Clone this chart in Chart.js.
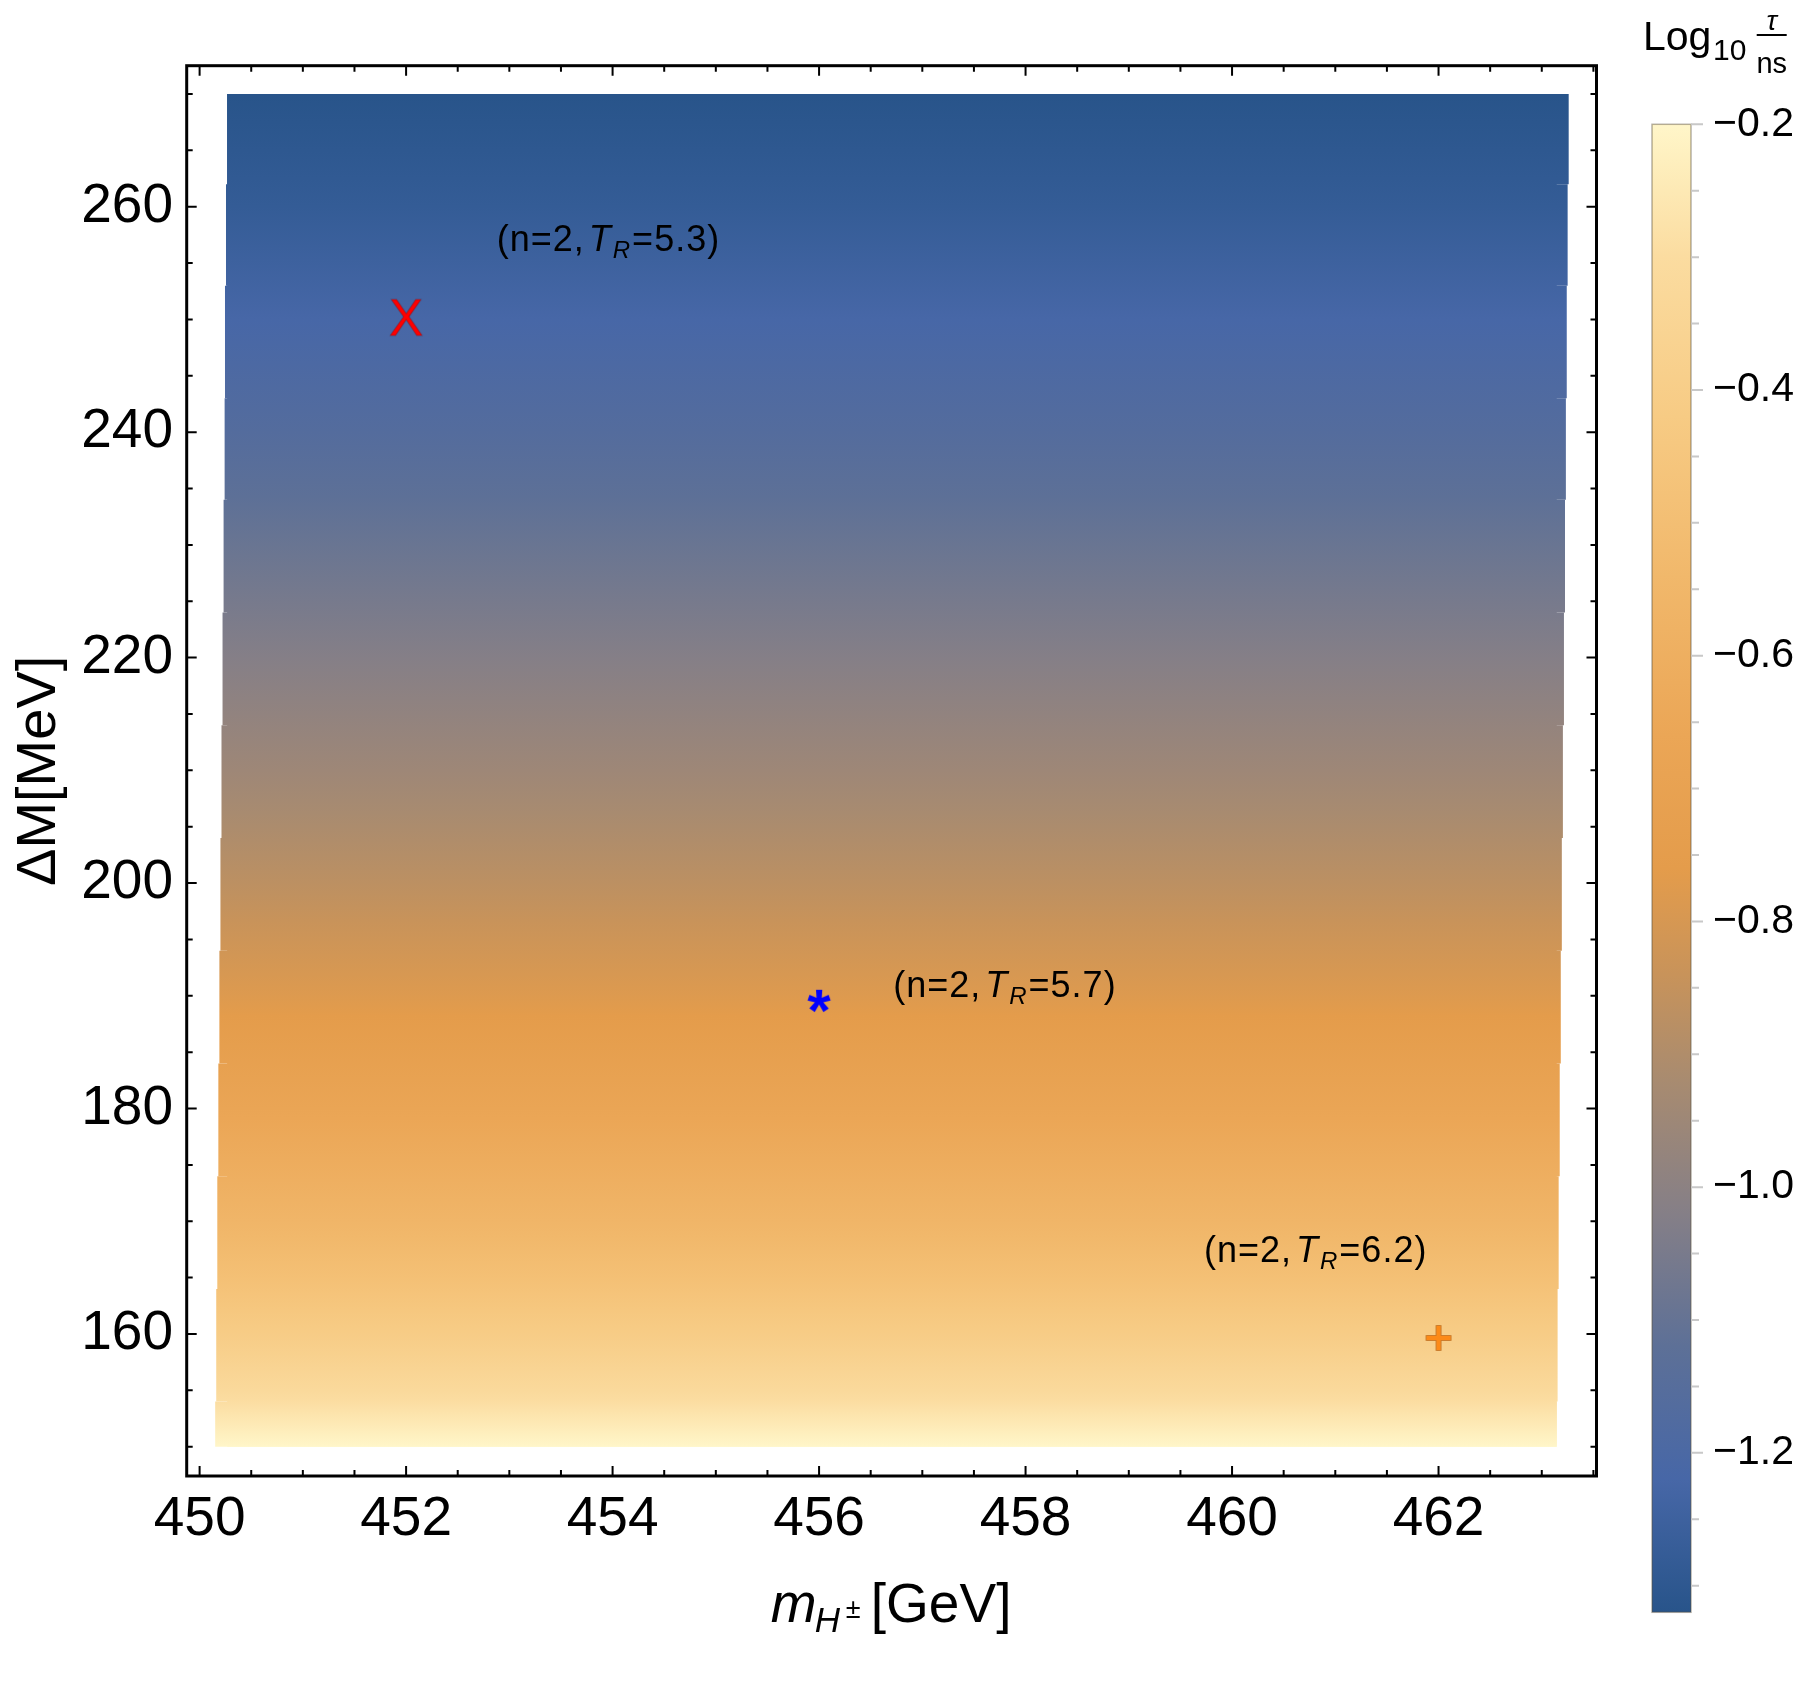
<!DOCTYPE html>
<html lang="en">
<head>
<meta charset="UTF-8">
<title>Charged Higgs lifetime</title>
<script src="https://cdn.jsdelivr.net/npm/chart.js"></script>
<style>
    html, body { margin: 0; padding: 0; background: #fff; }
    #wrap { position: relative; width: 1810px; height: 1704px; }
    #main { position: absolute; left: 0; top: 0; }
    #legend-bar { position: absolute; left: 1600px; top: 0; }
</style>
</head>
<body>
<div id="wrap">
    <canvas id="main" width="1810" height="1704"></canvas>
    <canvas id="legend-bar" width="210" height="1704"></canvas>
</div>
<script>
const dmKnots = [150, 155, 160, 165, 170, 180, 190, 200, 210, 220, 230, 240, 250, 260, 270];
const logTau  = [-0.20, -0.32, -0.41, -0.49, -0.56, -0.67, -0.78, -0.87, -0.95, -1.02, -1.09, -1.16, -1.22, -1.28, -1.32];

// the shaded region is built of horizontal strips with slightly shifting edges
const stripBottom = [150, 154, 164, 174, 184, 194, 204, 214, 224, 234, 243, 253, 262];
const stripTop    = [154, 164, 174, 184, 194, 204, 214, 224, 234, 243, 253, 262, 270];
const stripLeft   = [450.150, 450.160, 450.170, 450.180, 450.190, 450.200, 450.210, 450.220, 450.230, 450.240, 450.245, 450.255, 450.266];
const stripRight  = [463.146, 463.155, 463.165, 463.175, 463.185, 463.195, 463.205, 463.215, 463.225, 463.234, 463.243, 463.252, 463.262];

// benchmark points and their labels
const pointX  = [452, 456, 462];
const pointY  = [250, 190, 160];
const labelTR = ['5.3', '5.7', '6.2'];
const labelX  = [453.96, 457.80, 460.81];
const labelY  = [256.9, 190.7, 167.2];

const xTicks  = [450, 452, 454, 456, 458, 460, 462];
const yTicks  = [160, 180, 200, 220, 240, 260];
const cbTicks = [-1.2, -1.0, -0.8, -0.6, -0.4, -0.2];

// colour scale (value -> colour)
const cbStopValues = [-1.32, -1.22, -1.12, -1.02, -0.92, -0.84, -0.76, -0.66, -0.54, -0.42, -0.30, -0.20];
const cbStopColors = ['#28548a', '#4767a7', '#5d7097', '#857f87', '#a88b70', '#c8935a', '#e49c4b', '#eba656', '#f1b86b', '#f7cb84', '#fbdca0', '#fff6c9'];

const FONT = "'Liberation Sans', Arial, Helvetica, sans-serif";
Chart.defaults.font.family = FONT;
Chart.defaults.color = '#000';

function hexToRgb(h) {
    const n = parseInt(h.slice(1), 16);
    return [(n >> 16) & 255, (n >> 8) & 255, n & 255];
}

function colorAt(v) {
    const vals = cbStopValues;
    const last = vals.length - 1;
    if (v <= vals[0]) return cbStopColors[0];
    if (v >= vals[last]) return cbStopColors[last];
    for (let i = 1; i <= last; i++) {
        if (v <= vals[i]) {
            const t = (v - vals[i - 1]) / (vals[i] - vals[i - 1]);
            const a = hexToRgb(cbStopColors[i - 1]);
            const b = hexToRgb(cbStopColors[i]);
            const c = a.map((ai, k) => Math.round(ai + (b[k] - ai) * t));
            return `rgb(${c[0]}, ${c[1]}, ${c[2]})`;
        }
    }
}

// gradient stops along Delta M: the knots plus where the colour scale bends
function fieldStops() {
    const stops = dmKnots.map((dm, i) => [dm, logTau[i]]);
    for (let i = 1; i < dmKnots.length; i++) {
        const a = logTau[i - 1], b = logTau[i];
        cbStopValues.forEach(v => {
            if ((v - a) * (v - b) < 0) {
                const t = (v - a) / (b - a);
                stops.push([dmKnots[i - 1] + t * (dmKnots[i] - dmKnots[i - 1]), v]);
            }
        });
    }
    return stops.sort((p, q) => p[0] - q[0]);
}

function fieldFill(context) {
    const chart = context.chart;
    if (!chart.chartArea) return 'rgba(0,0,0,0)';
    const y = chart.scales.y;
    const lo = dmKnots[0], hi = dmKnots[dmKnots.length - 1];
    const g = chart.ctx.createLinearGradient(0, y.getPixelForValue(lo), 0, y.getPixelForValue(hi));
    fieldStops().forEach(([dm, v]) => g.addColorStop((dm - lo) / (hi - lo), colorAt(v)));
    return g;
}

// glyph markers like the ones in the original plot
function glyphMarker(text, font, fill, stroke, dy) {
    const c = document.createElement('canvas');
    c.width = 70; c.height = 70;
    const g = c.getContext('2d');
    g.font = font;
    g.textAlign = 'center';
    g.textBaseline = 'alphabetic';
    const m = g.measureText(text);
    const base = 35 + (m.actualBoundingBoxAscent - m.actualBoundingBoxDescent) / 2 + dy;
    g.fillStyle = fill;
    g.fillText(text, 35, base);
    if (stroke) {
        g.strokeStyle = stroke;
        g.lineWidth = 1;
        g.strokeText(text, 35, base);
    }
    return c;
}

function plusMarker(fill, stroke, dy) {
    const c = document.createElement('canvas');
    c.width = 70; c.height = 70;
    const g = c.getContext('2d');
    g.beginPath();
    g.moveTo(22.5, 32.5 + dy); g.lineTo(32.5, 32.5 + dy); g.lineTo(32.5, 22.5 + dy); g.lineTo(37.5, 22.5 + dy);
    g.lineTo(37.5, 32.5 + dy); g.lineTo(47.5, 32.5 + dy); g.lineTo(47.5, 37.5 + dy); g.lineTo(37.5, 37.5 + dy);
    g.lineTo(37.5, 47.5 + dy); g.lineTo(32.5, 47.5 + dy); g.lineTo(32.5, 37.5 + dy); g.lineTo(22.5, 37.5 + dy);
    g.closePath();
    g.fillStyle = fill;
    g.fill();
    g.strokeStyle = stroke;
    g.lineWidth = 1;
    g.stroke();
    return c;
}

const markerImages = [
    glyphMarker('X', `51px ${FONT}`, '#ff0000', 'rgba(110,0,0,0.35)', -2),
    glyphMarker('*', `bold 60px ${FONT}`, '#0000ff', null, 5),
    plusMarker('#fc8a18', 'rgba(160,80,10,0.5)', 4)
];

function drawPointLabel(ctx, cx, cy, tr) {
    const size = 36, sub = 24;
    const parts = [
        { t: '(n=2,', f: `${size}px ${FONT}`, dy: 0, gap: 4 },
        { t: 'T', f: `italic ${size}px ${FONT}`, dy: 0, gap: 1 },
        { t: 'R', f: `italic ${sub}px ${FONT}`, dy: 7, gap: 1 },
        { t: '=' + tr + ')', f: `${size}px ${FONT}`, dy: 0, gap: 0 }
    ];
    ctx.letterSpacing = '1px';
    let w = 0;
    parts.forEach(p => { ctx.font = p.f; p.w = ctx.measureText(p.t).width; w += p.w + p.gap; });
    let xx = cx - w / 2;
    const base = cy + 0.258 * size;
    ctx.fillStyle = '#000';
    ctx.textAlign = 'left';
    ctx.textBaseline = 'alphabetic';
    parts.forEach(p => {
        ctx.font = p.f;
        ctx.fillText(p.t, xx, base + p.dy);
        xx += p.w + p.gap;
    });
    ctx.letterSpacing = '0px';
}

const framePlugin = {
    id: 'frame',
    afterDatasetsDraw(chart) {
        const { ctx, chartArea: a, scales: { x, y } } = chart;
        ctx.save();
        labelTR.forEach((tr, i) => drawPointLabel(ctx, x.getPixelForValue(labelX[i]), y.getPixelForValue(labelY[i]), tr));

        ctx.strokeStyle = '#000';
        ctx.lineWidth = 3;
        ctx.strokeRect(a.left, a.top, a.right - a.left, a.bottom - a.top);

        // inward ticks on all four sides
        ctx.lineWidth = 2;
        ctx.beginPath();
        for (let v = 450; v <= 463.5 + 1e-9; v += 0.5) {
            const px = x.getPixelForValue(v);
            const len = xTicks.includes(v) ? 10 : 6;
            ctx.moveTo(px, a.bottom); ctx.lineTo(px, a.bottom - len);
            ctx.moveTo(px, a.top); ctx.lineTo(px, a.top + len);
        }
        for (let v = 150; v <= 270; v += 5) {
            const py = y.getPixelForValue(v);
            const len = yTicks.includes(v) ? 10 : 6;
            ctx.moveTo(a.left, py); ctx.lineTo(a.left + len, py);
            ctx.moveTo(a.right, py); ctx.lineTo(a.right - len, py);
        }
        ctx.stroke();
        ctx.restore();
    },
    afterDraw(chart) {
        const { ctx, chartArea: a } = chart;
        ctx.save();
        ctx.fillStyle = '#000';
        ctx.textBaseline = 'alphabetic';
        ctx.textAlign = 'left';

        // x title: m_{H^±}[GeV]
        const cx = (a.left + a.right) / 2;
        const x0 = cx - 120.8;
        const base = a.bottom + 145.7;
        ctx.font = `italic 55px ${FONT}`;
        ctx.fillText('m', x0, base);
        ctx.font = `italic 35px ${FONT}`;
        ctx.fillText('H', x0 + 44, base + 10);
        ctx.font = `27px ${FONT}`;
        ctx.fillText('\u00b1', x0 + 75, base - 4);
        ctx.font = `55px ${FONT}`;
        ctx.fillText('[GeV]', x0 + 100, base);

        // y title
        ctx.translate(55, (a.top + a.bottom) / 2);
        ctx.rotate(-Math.PI / 2);
        ctx.textAlign = 'center';
        ctx.font = `56px ${FONT}`;
        ctx.fillText('\u0394M[MeV]', 0, 0);
        ctx.restore();
    }
};

// strips are drawn below the markers (higher order = drawn earlier)
const fieldSets = stripBottom.map((b, i) => ({
    type: 'line',
    order: 2,
    data: [{ x: stripLeft[i], y: stripTop[i] }, { x: stripRight[i], y: stripTop[i] }],
    fill: { value: b },
    backgroundColor: fieldFill,
    borderColor: 'rgba(0,0,0,0)',
    borderWidth: 0,
    pointRadius: 0,
    tension: 0
}));

// underlay covering the common core so the strip seams do not show
fieldSets.push({
    type: 'line',
    order: 1,
    data: [{ x: Math.max(...stripLeft), y: stripTop[stripTop.length - 1] },
           { x: Math.min(...stripRight), y: stripTop[stripTop.length - 1] }],
    fill: { value: stripBottom[0] },
    backgroundColor: fieldFill,
    borderColor: 'rgba(0,0,0,0)',
    borderWidth: 0,
    pointRadius: 0,
    tension: 0
});

const markerSets = pointX.map((px, i) => ({
    type: 'scatter',
    order: 0,
    data: [{ x: px, y: pointY[i] }],
    pointStyle: markerImages[i],
    pointRadius: 10
}));

new Chart(document.getElementById('main'), {
    type: 'scatter',
    data: { datasets: [...fieldSets, ...markerSets] },
    options: {
        responsive: false,
        animation: false,
        devicePixelRatio: 1,
        layout: { padding: { top: 65.7, right: 213.5, bottom: 0, left: 0 } },
        plugins: { legend: { display: false }, tooltip: { enabled: false } },
        scales: {
            x: {
                type: 'linear', min: 449.875, max: 463.53,
                grid: { display: false, drawTicks: false },
                border: { display: false },
                ticks: { font: { size: 55, lineHeight: 1 }, color: '#000', padding: 16, maxRotation: 0 },
                afterBuildTicks: s => { s.ticks = xTicks.map(v => ({ value: v })); },
                afterFit: s => { s.height = 228; }
            },
            y: {
                type: 'linear', min: 147.4, max: 272.51,
                grid: { display: false, drawTicks: false },
                border: { display: false },
                ticks: { font: { size: 55, lineHeight: 1 }, color: '#000', padding: 13.7 },
                afterBuildTicks: s => { s.ticks = yTicks.map(v => ({ value: v })); },
                afterFit: s => { s.width = 186.7; }
            }
        }
    },
    plugins: [framePlugin]
});

// ----- colour bar -----
const cbMin = -1.32, cbMax = -0.2;

function barFill(context) {
    const chart = context.chart;
    if (!chart.chartArea) return 'rgba(0,0,0,0)';
    const y = chart.scales.y;
    const g = chart.ctx.createLinearGradient(0, y.getPixelForValue(cbMin), 0, y.getPixelForValue(cbMax));
    cbStopValues.forEach((v, i) => g.addColorStop((v - cbMin) / (cbMax - cbMin), cbStopColors[i]));
    return g;
}

const barPlugin = {
    id: 'barDeco',
    afterDraw(chart) {
        const { ctx, chartArea: a, scales: { y } } = chart;
        ctx.save();
        ctx.strokeStyle = 'rgba(90,80,60,0.45)';
        ctx.lineWidth = 1.5;
        ctx.strokeRect(a.left, a.top, a.right - a.left, a.bottom - a.top);

        ctx.strokeStyle = '#c8c8c8';
        ctx.lineWidth = 2;
        ctx.beginPath();
        for (let k = 0; k <= 22; k++) {
            const v = cbMax - 0.05 * k;
            if (v < cbMin) break;
            const py = y.getPixelForValue(v);
            const major = cbTicks.some(t => Math.abs(t - v) < 1e-6);
            ctx.moveTo(a.right, py);
            ctx.lineTo(a.right + (major ? 12 : 8), py);
        }
        ctx.stroke();

        // title: Log10 tau/ns
        ctx.fillStyle = '#000';
        ctx.textBaseline = 'alphabetic';
        ctx.textAlign = 'left';
        ctx.font = `41px ${FONT}`;
        ctx.fillText('Log', 43, 50);
        ctx.font = `30px ${FONT}`;
        ctx.fillText('10', 113, 60);
        ctx.strokeStyle = '#000';
        ctx.lineWidth = 2;
        ctx.beginPath();
        ctx.moveTo(156.7, 35); ctx.lineTo(186.7, 35);
        ctx.stroke();
        ctx.textAlign = 'center';
        ctx.font = `italic 28px ${FONT}`;
        ctx.fillText('\u03c4', 171.7, 30);
        ctx.font = `29px ${FONT}`;
        ctx.fillText('ns', 171.7, 72.7);
        ctx.restore();
    }
};

new Chart(document.getElementById('legend-bar'), {
    type: 'bar',
    data: {
        labels: [''],
        datasets: [{
            data: [[cbMin, cbMax]],
            backgroundColor: barFill,
            borderWidth: 0,
            barPercentage: 1,
            categoryPercentage: 1
        }]
    },
    options: {
        responsive: false,
        animation: false,
        devicePixelRatio: 1,
        layout: { padding: { left: 52, top: 124.3, bottom: 91.7, right: 0 } },
        plugins: { legend: { display: false }, tooltip: { enabled: false } },
        scales: {
            x: { display: false },
            y: {
                position: 'right', min: cbMin, max: cbMax,
                grid: { display: false, drawTicks: false },
                border: { display: false },
                ticks: {
                    font: { size: 41, lineHeight: 1 }, color: '#000', padding: 22,
                    callback: v => '\u2212' + Math.abs(v).toFixed(1)
                },
                afterBuildTicks: s => { s.ticks = cbTicks.map(v => ({ value: v })); },
                afterFit: s => { s.width = 119; }
            }
        }
    },
    plugins: [barPlugin]
});
</script>
</body>
</html>
